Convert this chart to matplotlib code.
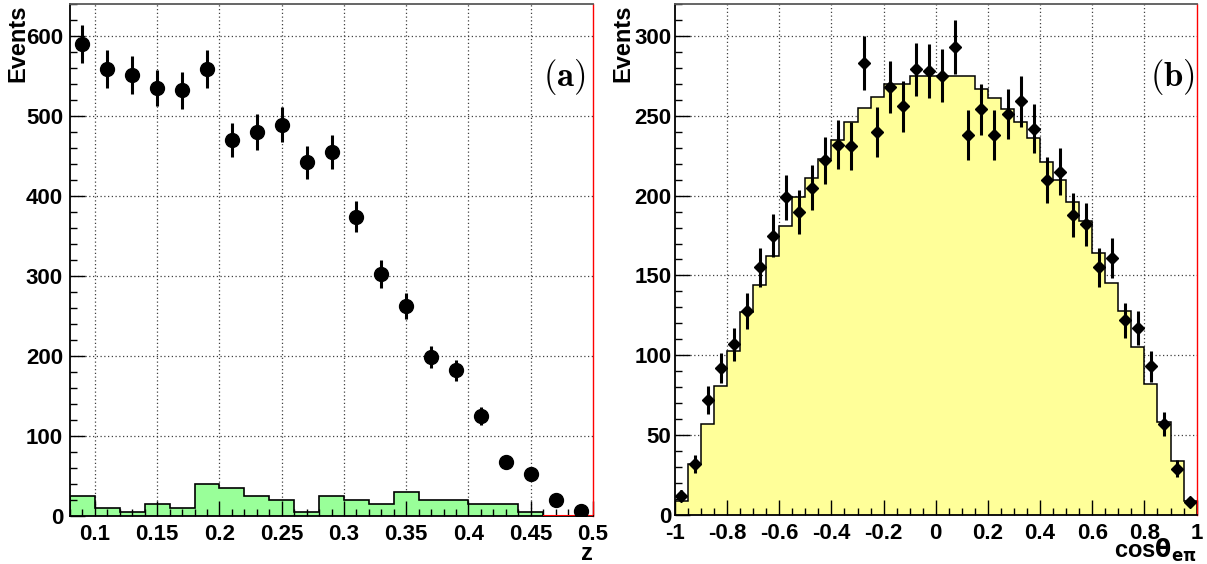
import matplotlib.pyplot as plt
import numpy as np
from matplotlib.ticker import MultipleLocator

# Fonts: bold Helvetica-like everywhere
plt.rcParams['font.family'] = ['Liberation Sans', 'DejaVu Sans']
plt.rcParams['font.weight'] = 'bold'
plt.rcParams['axes.labelweight'] = 'bold'

# ---- panel (a): z distribution ----
z_edges = np.linspace(0.08, 0.50, 22)
z_counts = [590, 559, 551, 535, 532, 559, 470, 480, 489, 442, 455,
            374, 302, 263, 199, 182, 125, 68, 52, 20, 6]
z_errors = [24, 23.6, 23.5, 23.1, 23.1, 23.6, 21.7, 21.9, 22.1, 21.0, 21.3,
            19.3, 17.4, 16.2, 14.1, 13.5, 11.2, 8.2, 7.2, 4.5, 2.4]
z_bkg = [25, 10, 5, 15, 10, 40, 35, 25, 20, 5, 25,
         20, 15, 30, 20, 20, 15, 15, 5, 0, 0]

# ---- panel (b): cos(theta) distribution ----
c_edges = np.linspace(-1, 1, 41)
c_counts = [12, 32, 72, 92, 107, 128, 155, 175, 199, 190,
            205, 222, 232, 231, 283, 240, 268, 256, 279, 278,
            275, 293, 238, 254, 238, 251, 259, 242, 210, 215,
            188, 182, 155, 161, 122, 117, 93, 57, 29, 8]
c_errors = [3.5, 5.7, 8.5, 9.6, 10.3, 11.3, 12.4, 13.2, 14.1, 13.8,
            14.3, 14.9, 15.2, 15.2, 16.8, 15.5, 16.4, 16.0, 16.7, 16.7,
            16.6, 17.1, 15.4, 15.9, 15.4, 15.8, 16.1, 15.6, 14.5, 14.7,
            13.7, 13.5, 12.4, 12.7, 11.0, 10.8, 9.6, 7.5, 5.4, 2.8]
c_mc = [9, 32, 57, 81, 103, 127, 144, 162, 181, 199,
        211, 223, 235, 246, 255, 262, 270, 270, 275, 275,
        275, 275, 275, 267, 261, 254, 246, 236, 221, 210,
        196, 184, 164, 145, 128, 105, 82, 58, 34, 9]

fig = plt.figure(figsize=(12.07, 5.64), dpi=100)
ax1 = fig.add_axes([0.058, 0.0851, 0.4333, 0.9078])
ax2 = fig.add_axes([0.5592, 0.0869, 0.4322, 0.906])


def style_axes(ax, xmaj, xmin, ymaj, ymin, ypad):
    ax.xaxis.set_major_locator(MultipleLocator(xmaj))
    ax.xaxis.set_minor_locator(MultipleLocator(xmin))
    ax.yaxis.set_major_locator(MultipleLocator(ymaj))
    ax.yaxis.set_minor_locator(MultipleLocator(ymin))
    ax.tick_params(which='both', direction='in', top=False, right=False,
                   width=1, labelsize=16)
    ax.tick_params(which='major', length=11)
    ax.tick_params(which='minor', length=5)
    ax.tick_params(axis='x', pad=6)
    ax.tick_params(axis='y', pad=ypad)
    for s in ['left', 'bottom']:
        ax.spines[s].set_linewidth(1.3)
    ax.spines['top'].set_color('0.35')
    ax.spines['top'].set_linewidth(1.3)
    ax.spines['right'].set_color('red')
    ax.spines['right'].set_linewidth(1.0)
    # dotted grid at major ticks, kept behind the histograms
    x0, x1 = ax.get_xlim()
    y0, y1 = ax.get_ylim()
    for xt in ax.get_xticks():
        if x0 < xt < x1:
            ax.axvline(xt, color='0.25', lw=0.9, ls=(0, (1, 2)), zorder=0.2)
    for yt in ax.get_yticks():
        if y0 < yt < y1:
            ax.axhline(yt, color='0.25', lw=0.9, ls=(0, (1, 2)), zorder=0.2)


# Panel (a)
ax1.set_xlim(0.08, 0.5)
ax1.set_ylim(0, 640)
ax1.stairs(z_bkg, z_edges, fill=True, color='#99ff99', zorder=1)
ax1.stairs(z_bkg, z_edges, color='black', lw=1.2, zorder=1.1)
zero = np.array(z_bkg) == 0
ax1.hlines(0, z_edges[:-1][zero].min(), z_edges[1:][zero].max(),
           color='red', lw=1.5, zorder=3)
z_centers = 0.5 * (z_edges[:-1] + z_edges[1:])
ax1.errorbar(z_centers, z_counts, yerr=z_errors, fmt='o', color='black',
             markersize=10, elinewidth=2.2, capsize=0, zorder=4)
style_axes(ax1, 0.05, 0.01, 100, 20, 5)
ax1.set_xticks([0.1, 0.15, 0.2, 0.25, 0.3, 0.35, 0.4, 0.45, 0.5])
ax1.set_xticklabels(['0.1', '0.15', '0.2', '0.25', '0.3', '0.35', '0.4', '0.45', '0.5'])
ax1.set_xlabel('z', loc='right', fontsize=17, fontweight='bold')
ax1.xaxis.set_label_coords(1.0, -0.05)
ax1.set_ylabel('Events', loc='top', fontsize=17, fontweight='bold')
ax1.yaxis.set_label_coords(-0.077, 1.0)
ax1.text(0.985, 0.857, r'$\mathbf{(a)}$', transform=ax1.transAxes,
         ha='right', va='center', fontsize=25, math_fontfamily='cm')

# Panel (b)
ax2.set_xlim(-1, 1)
ax2.set_ylim(0, 320)
ax2.stairs(c_mc, c_edges, fill=True, color='#ffff99', zorder=1)
ax2.stairs(c_mc, c_edges, color='black', lw=1.1, zorder=1.1)
c_centers = 0.5 * (c_edges[:-1] + c_edges[1:])
ax2.errorbar(c_centers, c_counts, yerr=c_errors, fmt='D', color='black',
             markersize=6.5, elinewidth=2.2, capsize=0, zorder=4)
style_axes(ax2, 0.2, 0.05, 50, 10, 2.5)
ax2.set_xticks([-1, -0.8, -0.6, -0.4, -0.2, 0, 0.2, 0.4, 0.6, 0.8, 1])
ax2.set_xticklabels(['-1', '-0.8', '-0.6', '-0.4', '-0.2', '0', '0.2', '0.4',
                     '0.6', '0.8', '1'])
ax2.set_xlabel(r'cos$\mathbf{\theta}_{\mathbf{e\pi}}$', loc='right',
               fontsize=17, fontweight='bold', math_fontfamily='dejavusans')
ax2.xaxis.set_label_coords(1.0, -0.043)
ax2.set_ylabel('Events', loc='top', fontsize=17, fontweight='bold')
ax2.yaxis.set_label_coords(-0.077, 1.0)
ax2.text(0.997, 0.857, r'$\mathbf{(b)}$', transform=ax2.transAxes,
         ha='right', va='center', fontsize=25, math_fontfamily='cm')

fig.savefig('out.png', dpi=100)
